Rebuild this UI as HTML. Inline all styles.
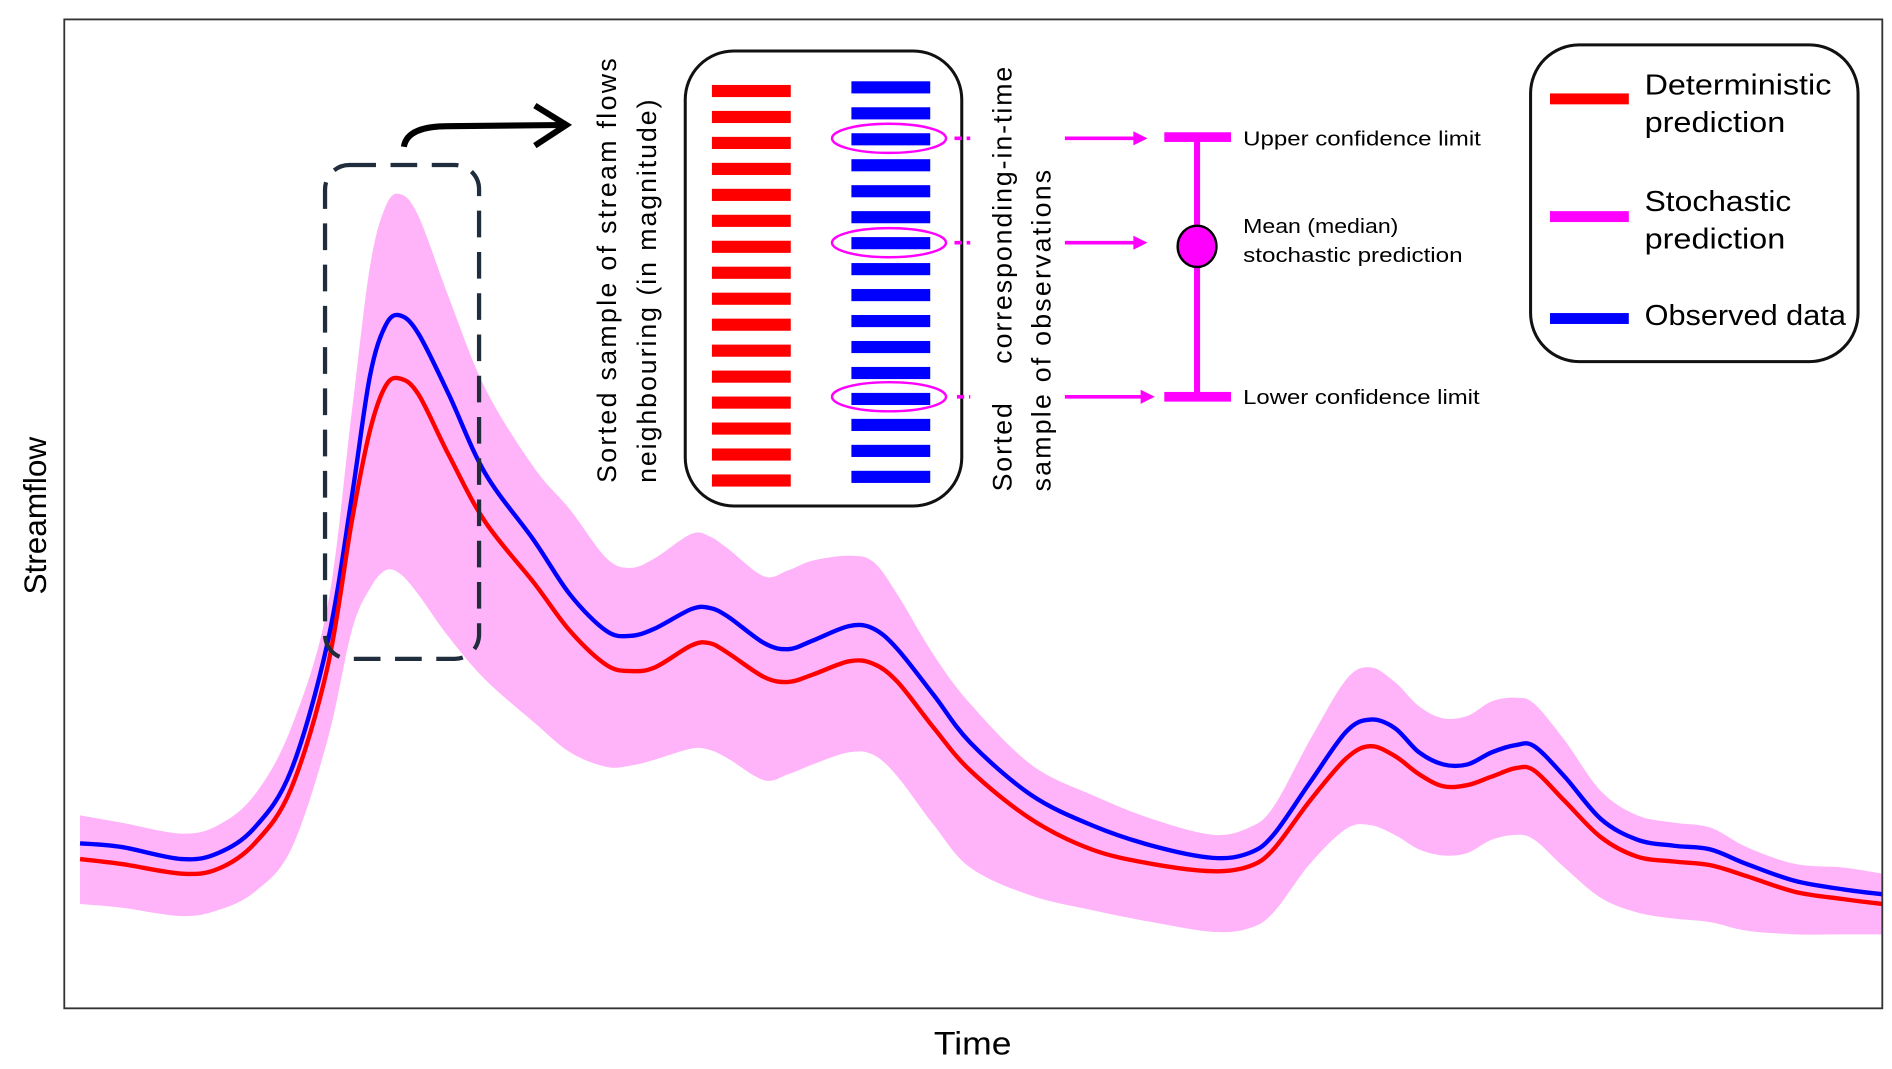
<!DOCTYPE html>
<html><head><meta charset="utf-8"><style>
html,body{margin:0;padding:0;background:#fff;}
svg{display:block;}
text{font-family:"Liberation Sans",sans-serif;}
</style></head><body>
<svg id="chart" width="1892" height="1069" viewBox="0 0 1560 881" preserveAspectRatio="none" xmlns="http://www.w3.org/2000/svg">
<rect x="0" y="0" width="1560" height="881" fill="#fff"/>
<g id="series"></g>
<rect x="53" y="16" width="1499" height="815" fill="none" stroke="#333" stroke-width="1.5"/>
<text transform="translate(38,425) rotate(-90)" text-anchor="middle" font-size="26">Streamflow</text>
<text x="770" y="869" font-size="27" textLength="64" lengthAdjust="spacingAndGlyphs">Time</text>

<rect x="268" y="136" width="127" height="407" rx="20" fill="none" stroke="#1f2d3d" stroke-width="3.5" stroke-dasharray="22 12"/>
<path d="M333,121 C335,108 350,104 370,104 L465,103" fill="none" stroke="#000" stroke-width="5"/>
<path d="M441,87 L467,103 L441,120" fill="none" stroke="#000" stroke-width="5"/>

<rect x="565" y="42" width="228" height="375" rx="40" fill="#fff" stroke="#111" stroke-width="2.5"/>
<g id="bars"></g>

<text transform="translate(508,398) rotate(-90)" font-size="22" textLength="350" lengthAdjust="spacing">Sorted sample of stream flows</text>
<text transform="translate(541,398) rotate(-90)" font-size="22" textLength="316" lengthAdjust="spacing">neighbouring (in magnitude)</text>
<text transform="translate(834,405) rotate(-90)" font-size="22" textLength="350" lengthAdjust="spacing" xml:space="preserve">Sorted    corresponding-in-time</text>
<text transform="translate(866,405) rotate(-90)" font-size="22" textLength="265" lengthAdjust="spacing">sample of observations</text>

<g stroke="#ff00ff" fill="none">
<ellipse cx="733" cy="114" rx="47" ry="12" stroke-width="2"/>
<ellipse cx="733" cy="200" rx="47" ry="12" stroke-width="2"/>
<ellipse cx="733" cy="327" rx="47" ry="12" stroke-width="2"/>
<path d="M787,114H800M787,200H800M789,327H800" stroke-width="3" stroke-dasharray="6 4"/>
<path d="M878,114H940M878,200H940M878,327H946" stroke-width="3"/>
<path d="M935,109L945,114L935,119ZM935,195L945,200L935,205ZM941,322L951,327L941,332Z" fill="#ff00ff" stroke-width="1"/>
<path d="M987,113V327" stroke-width="5"/>
<rect x="960" y="109" width="55" height="8" fill="#ff00ff" stroke="none"/>
<rect x="960" y="323" width="55" height="8" fill="#ff00ff" stroke="none"/>
<ellipse cx="987" cy="203" rx="16" ry="17" fill="#ff00ff" stroke="#000" stroke-width="2"/>
</g>
<g font-size="17" fill="#000">
<text x="1025" y="120" textLength="196" lengthAdjust="spacingAndGlyphs">Upper confidence limit</text>
<text x="1025" y="192" textLength="128" lengthAdjust="spacingAndGlyphs">Mean (median)</text>
<text x="1025" y="216" textLength="181" lengthAdjust="spacingAndGlyphs">stochastic prediction</text>
<text x="1025" y="333" textLength="195" lengthAdjust="spacingAndGlyphs">Lower confidence limit</text>
</g>

<g>
<rect x="1262" y="37" width="270" height="261" rx="40" fill="#fff" stroke="#111" stroke-width="2.5"/>
<g><rect x="1278" y="77" width="65" height="9" fill="#ff0000"/><text x="1356" y="78" font-size="24" textLength="154" lengthAdjust="spacingAndGlyphs">Deterministic</text><text x="1356" y="109" font-size="24" textLength="116" lengthAdjust="spacingAndGlyphs">prediction</text></g>
<g><rect x="1278" y="174" width="65" height="9" fill="#ff00ff"/><text x="1356" y="174" font-size="24" textLength="121" lengthAdjust="spacingAndGlyphs">Stochastic</text><text x="1356" y="205" font-size="24" textLength="116" lengthAdjust="spacingAndGlyphs">prediction</text></g>
<g><rect x="1278" y="258" width="65" height="9" fill="#0000ff"/><text x="1356" y="268" font-size="24" textLength="166" lengthAdjust="spacingAndGlyphs">Observed data</text></g>
</g>
</svg>
<script>
const timeSteps=[0,34,84,114,144,174,204,224,239,252,264,279,304,334,374,404,434,454,474,504,519,534,564,584,604,634,654,674,704,734,784,834,884,934,964,984,1014,1044,1064,1084,1104,1124,1144,1164,1184,1199,1224,1254,1284,1314,1344,1374,1414,1454,1486];
const deterministic=[123,119,111,115,136,181,281,401,476,513,519,506,456,401,351,311,283,278,281,299,301,293,273,269,275,286,284,269,231,196,156,131,119,113,117,131,171,206,216,208,193,183,184,191,198,196,171,141,125,121,118,109,96,90,86];
const observed=[136,133,123,128,149,196,301,421,521,563,571,556,506,441,386,341,311,307,313,329,330,323,301,296,303,315,313,296,258,219,176,151,134,124,128,143,186,228,238,231,211,201,201,211,217,216,191,156,139,134,131,119,105,98,94];
const upperBand=[159,153,144,151,176,231,331,491,611,661,671,653,586,511,446,411,371,363,371,391,389,379,356,361,369,373,368,341,291,251,201,176,156,143,149,166,221,271,281,269,249,239,241,253,256,251,221,179,159,153,149,133,119,116,111];
const lowerBand=[86,83,76,81,96,131,221,311,346,361,358,341,306,271,236,211,199,200,205,214,213,206,188,193,201,211,209,191,151,116,93,81,71,63,66,79,119,148,151,143,131,126,128,139,143,139,116,91,79,74,71,64,61,61,61];
const redBarCount=16, blueBarCount=16;

const NS='http://www.w3.org/2000/svg';
function xs(t){return 66+t;}
function ys(v){return 831-v;}
function smooth(pts){
  let d='M'+pts[0][0]+','+pts[0][1];
  for(let i=0;i<pts.length-1;i++){
    const p0=pts[Math.max(0,i-1)],p1=pts[i],p2=pts[i+1],p3=pts[Math.min(pts.length-1,i+2)];
    const c1=[p1[0]+(p2[0]-p0[0])/6,p1[1]+(p2[1]-p0[1])/6];
    const c2=[p2[0]-(p3[0]-p1[0])/6,p2[1]-(p3[1]-p1[1])/6];
    d+=' C'+c1[0].toFixed(1)+','+c1[1].toFixed(1)+' '+c2[0].toFixed(1)+','+c2[1].toFixed(1)+' '+p2[0]+','+p2[1];
  }
  return d;
}
const g=document.getElementById('series');
const up=timeSteps.map((t,i)=>[xs(t),ys(upperBand[i])]);
const lo=timeSteps.map((t,i)=>[xs(t),ys(lowerBand[i])]).reverse();
const band=document.createElementNS(NS,'path');
band.setAttribute('d',smooth(up)+' L'+lo[0][0]+','+lo[0][1]+smooth(lo).replace(/^M[^ ]+/,'')+' Z');
band.setAttribute('fill','#ffb3f8');


g.appendChild(band);
function line(arr,color,name){
  const p=document.createElementNS(NS,'path');
  p.setAttribute('d',smooth(timeSteps.map((t,i)=>[xs(t),ys(arr[i])])));
  p.setAttribute('fill','none');p.setAttribute('stroke',color);p.setAttribute('stroke-width','3.6');
  p.setAttribute('stroke-linejoin','round');
  
  
  g.appendChild(p);
}
line(observed,'#0000ff','observed-line');
line(deterministic,'#ff0000','deterministic-line');

const bg=document.getElementById('bars');
for(let i=0;i<redBarCount;i++){
  const r=document.createElementNS(NS,'rect');
  r.setAttribute('x',587);r.setAttribute('y',70+i*21.4);r.setAttribute('width',65);r.setAttribute('height',10);r.setAttribute('fill','#ff0000');
  
  
  bg.appendChild(r);
}
for(let i=0;i<blueBarCount;i++){
  const r=document.createElementNS(NS,'rect');
  r.setAttribute('x',702);r.setAttribute('y',67+i*21.4);r.setAttribute('width',65);r.setAttribute('height',10);r.setAttribute('fill','#0000ff');
  
  
  bg.appendChild(r);
}
</script>
</body></html>
